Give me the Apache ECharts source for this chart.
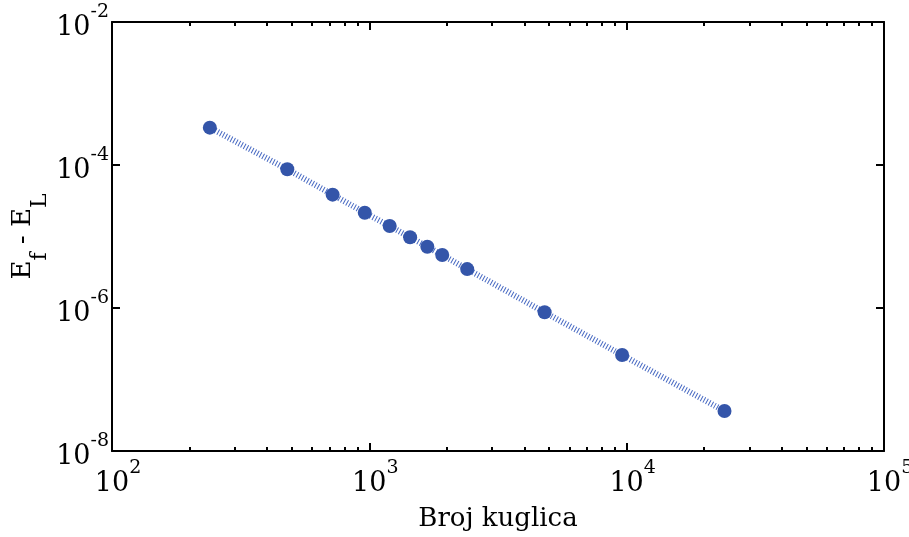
<!DOCTYPE html>
<html>
<head>
<meta charset="utf-8">
<script src="https://cdn.jsdelivr.net/npm/echarts@6/dist/echarts.min.js"></script>
<style>
  html, body { margin: 0; padding: 0; background: #fff; }
  #chart { width: 909px; height: 537px; }
</style>
</head>
<body>
<div id="chart"></div>
<script>
// Energy difference E_f - E_L against the number of balls (log-log)
const ballCounts = [240, 480, 720, 960, 1200, 1440, 1680, 1920, 2400, 4800, 9600, 24000];
const energyGap = [3.33e-4, 8.7e-5, 3.85e-5, 2.15e-5, 1.4e-5, 9.75e-6, 7.2e-6, 5.5e-6, 3.5e-6, 8.7e-7, 2.2e-7, 3.62e-8];

// Tick positions and labels
const xMajorTicks = [1e2, 1e3, 1e4, 1e5];
const xTickExponents = ['2', '3', '4', '5'];
const xMinorTicks = [200, 300, 400, 500, 600, 700, 800, 900,
                     2000, 3000, 4000, 5000, 6000, 7000, 8000, 9000,
                     20000, 30000, 40000, 50000, 60000, 70000, 80000, 90000];
const yMajorTicks = [1e-8, 1e-6, 1e-4, 1e-2];
const yTickExponents = ['-8', '-6', '-4', '-2'];

const FONT = 'DejaVu Serif';
const INK = '#000';
const MARK = '#3455a9';

// "10" with a raised exponent; the h token sets the line height
const powerRich = {
  h: { lineHeight: 38, width: 0, fontSize: 10 },
  p: { width: 12, fontSize: 27, lineHeight: 27, fontFamily: FONT },
  b: { fontSize: 27, lineHeight: 27, verticalAlign: 'bottom', fontFamily: FONT, color: INK },
  s: { fontSize: 19, lineHeight: 19, verticalAlign: 'top', fontFamily: FONT, color: INK }
};

function exponentOf(ticks, exps, v) {
  let best = 0;
  for (let i = 0; i < ticks.length; i++) {
    if (Math.abs(Math.log10(ticks[i]) - Math.log10(v)) < Math.abs(Math.log10(ticks[best]) - Math.log10(v))) best = i;
  }
  return exps[best];
}

const axisLine = { show: true, lineStyle: { color: INK, width: 2 } };

function xAxisBase(extra) {
  return Object.assign({
    type: 'log', logBase: 10, min: 1e2, max: 1e5,
    splitLine: { show: false }, minorTick: { show: false }, minorSplitLine: { show: false }
  }, extra);
}
function yAxisBase(extra) {
  return Object.assign({
    type: 'log', logBase: 10, min: 1e-8, max: 1e-2,
    splitLine: { show: false }, minorTick: { show: false }, minorSplitLine: { show: false }
  }, extra);
}

const chart = echarts.init(document.getElementById('chart'), null, { renderer: 'canvas' });

chart.setOption({
  backgroundColor: '#fff',
  animation: false,
  grid: [
    { left: 112, right: 25, top: 22, bottom: 86, outerBoundsMode: 'none' },
    { left: 112, right: 25, top: 22, bottom: 86, outerBoundsMode: 'none' }
  ],
  xAxis: [
    xAxisBase({
      gridIndex: 0, position: 'bottom',
      name: 'Broj kuglica', nameLocation: 'middle', nameGap: 55, nameMoveOverlap: false,
      nameTextStyle: { fontFamily: FONT, fontSize: 26, lineHeight: 26, color: INK },
      axisLine: axisLine,
      axisTick: { show: true, inside: true, length: 8, customValues: xMajorTicks, lineStyle: { color: INK, width: 2 } },
      axisLabel: {
        show: true, margin: 8, customValues: xMajorTicks,
        formatter: v => '{h|\u200b}{p| }{b|10}{s|' + exponentOf(xMajorTicks, xTickExponents, v) + '}',
        rich: powerRich
      }
    }),
    xAxisBase({
      gridIndex: 0, position: 'top',
      axisLine: axisLine,
      axisTick: { show: true, inside: true, length: 8, customValues: xMajorTicks, lineStyle: { color: INK, width: 2 } },
      axisLabel: { show: false }
    }),
    xAxisBase({
      gridIndex: 1, position: 'bottom',
      axisLine: { show: false },
      axisTick: { show: true, inside: true, length: 4, customValues: xMinorTicks, lineStyle: { color: INK, width: 2 } },
      axisLabel: { show: false }
    }),
    xAxisBase({
      gridIndex: 1, position: 'top',
      axisLine: { show: false },
      axisTick: { show: true, inside: true, length: 4, customValues: xMinorTicks, lineStyle: { color: INK, width: 2 } },
      axisLabel: { show: false }
    })
  ],
  yAxis: [
    yAxisBase({
      gridIndex: 0, position: 'left',
      name: '{h|\u200b}{e|E}{u|f}{m| - }{e|E}{u|L}', nameLocation: 'middle', nameGap: 61, nameMoveOverlap: false,
      nameTextStyle: {
        fontFamily: FONT, color: INK,
        rich: {
          h: { lineHeight: 41, width: 0, fontSize: 10 },
          e: { fontSize: 26, lineHeight: 26, verticalAlign: 'top', fontFamily: FONT, color: INK },
          m: { fontSize: 26, lineHeight: 26, verticalAlign: 'top', fontFamily: FONT, color: INK },
          u: { fontSize: 22, lineHeight: 22, verticalAlign: 'bottom', fontFamily: FONT, color: INK }
        }
      },
      axisLine: axisLine,
      axisTick: { show: true, inside: true, length: 8, customValues: yMajorTicks, lineStyle: { color: INK, width: 2 } },
      axisLabel: {
        show: true, margin: 3, customValues: yMajorTicks,
        formatter: v => '{h|\u200b}{b|10}{s|' + exponentOf(yMajorTicks, yTickExponents, v) + '}',
        rich: powerRich
      }
    }),
    yAxisBase({
      gridIndex: 0, position: 'right',
      axisLine: axisLine,
      axisTick: { show: true, inside: true, length: 8, customValues: yMajorTicks, lineStyle: { color: INK, width: 2 } },
      axisLabel: { show: false }
    }),
    yAxisBase({
      gridIndex: 1, position: 'left',
      axisLine: { show: false }, axisTick: { show: false }, axisLabel: { show: false }
    })
  ],
  series: [{
    type: 'line',
    xAxisIndex: 0, yAxisIndex: 0,
    data: ballCounts.map((n, i) => [n, energyGap[i]]),
    symbol: 'circle', symbolSize: 14,
    itemStyle: { color: MARK },
    lineStyle: { color: '#4668c2', width: 6, type: [1, 2], cap: 'butt' },
    z: 3
  }]
});
</script>
</body>
</html>
